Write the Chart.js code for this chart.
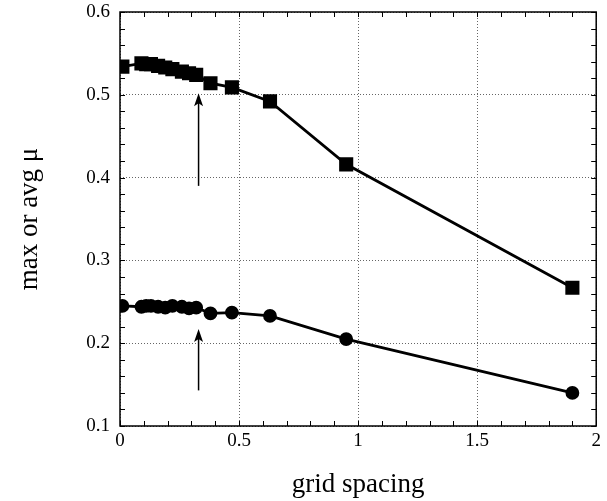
<!DOCTYPE html>
<html>
<head>
<meta charset="utf-8">
<script src="https://cdn.jsdelivr.net/npm/chart.js@4/dist/chart.umd.min.js"></script>
<style>
  html, body { margin: 0; padding: 0; background: #fff; }
  #wrap { width: 607px; height: 501px; }
</style>
</head>
<body>
<div id="wrap"><canvas id="muChart" width="607" height="501"></canvas></div>
<script>
// grid spacing values (x) shared by both curves
const spacing = [0.01, 0.09, 0.11, 0.13, 0.16, 0.19, 0.22, 0.26, 0.29, 0.32, 0.38, 0.47, 0.63, 0.95, 1.9];
// max mu (squares) and avg mu (circles)
const maxMu = [0.534, 0.538, 0.537, 0.537, 0.535, 0.533, 0.531, 0.528, 0.526, 0.524, 0.514, 0.509, 0.492, 0.416, 0.267];
const avgMu = [0.245, 0.244, 0.245, 0.245, 0.244, 0.243, 0.245, 0.244, 0.242, 0.243, 0.236, 0.237, 0.233, 0.205, 0.14];
// tick labels
const xTicks = [0, 0.5, 1, 1.5, 2];
const yTicks = [0.1, 0.2, 0.3, 0.4, 0.5, 0.6];
// arrows marking the chosen spacing: x, start (tail) and tip values
const arrowX = [0.33, 0.33];
const arrowTail = [0.39, 0.143];
const arrowTip = [0.502, 0.217];

const serif = "'Liberation Serif', 'DejaVu Serif', serif";

function toPoints(xs, ys) {
  return xs.map((x, i) => ({ x: x, y: ys[i] }));
}

// frame, inward ticks on all 4 sides, and the arrows
const framePlugin = {
  id: "frame",
  afterDatasetsDraw(chart) {
    const ctx = chart.ctx;
    const a = chart.chartArea;
    const xs = chart.scales.x;
    const ys = chart.scales.y;
    ctx.save();
    ctx.strokeStyle = "#000";
    ctx.lineWidth = 1.5;
    ctx.strokeRect(a.left, a.top, a.right - a.left, a.bottom - a.top);

    ctx.lineWidth = 1;
    ctx.beginPath();
    for (let v = 0; v <= 2.0001; v += 0.1) {
      const px = Math.round(xs.getPixelForValue(v)) + 0.5;
      ctx.moveTo(px, a.bottom); ctx.lineTo(px, a.bottom - 5);
      ctx.moveTo(px, a.top); ctx.lineTo(px, a.top + 5);
    }
    for (let v = 0.1; v <= 0.6001; v += 0.02) {
      const py = Math.round(ys.getPixelForValue(v)) + 0.5;
      ctx.moveTo(a.left, py); ctx.lineTo(a.left + 5, py);
      ctx.moveTo(a.right, py); ctx.lineTo(a.right - 5, py);
    }
    ctx.stroke();

    // arrows
    ctx.lineWidth = 1.5;
    ctx.fillStyle = "#000";
    arrowX.forEach((x, i) => {
      const px = xs.getPixelForValue(x);
      const y0 = ys.getPixelForValue(arrowTail[i]);
      const y1 = ys.getPixelForValue(arrowTip[i]);
      ctx.beginPath();
      ctx.moveTo(px, y0);
      ctx.lineTo(px, y1 + 6);
      ctx.stroke();
      ctx.beginPath();
      ctx.moveTo(px, y1);
      ctx.lineTo(px - 4.5, y1 + 13);
      ctx.lineTo(px, y1 + 10);
      ctx.lineTo(px + 4.5, y1 + 13);
      ctx.closePath();
      ctx.fill();
    });
    ctx.restore();
  }
};

new Chart(document.getElementById("muChart").getContext("2d"), {
  type: "scatter",
  data: {
    datasets: [
      {
        label: "max",
        data: toPoints(spacing, maxMu),
        showLine: true,
        borderColor: "#000",
        backgroundColor: "#000",
        borderWidth: 2.8,
        pointStyle: "rect",
        pointRadius: 8,
      },
      {
        label: "avg",
        data: toPoints(spacing, avgMu),
        showLine: true,
        borderColor: "#000",
        backgroundColor: "#000",
        borderWidth: 2.8,
        pointStyle: "circle",
        pointRadius: 5.5,
      },
    ],
  },
  options: {
    responsive: false,
    animation: false,
    layout: { padding: { top: 12, right: 6, left: 0, bottom: 0 } },
    plugins: { legend: { display: false }, tooltip: { enabled: false } },
    scales: {
      x: {
        type: "linear",
        min: 0,
        max: 2,
        afterBuildTicks: (s) => { s.ticks = xTicks.map((v) => ({ value: v })); },
        afterFit: (s) => { s.height = 75; },
        ticks: {
          color: "#000",
          font: { family: serif, size: 19 },
          padding: 4,
          maxRotation: 0,
          callback: (v) => String(v),
        },
        grid: {
          color: "#666",
          lineWidth: 1,
          drawTicks: false,
        },
        border: { display: false, dash: [1, 2] },
        title: {
          display: true,
          text: "grid spacing",
          color: "#000",
          font: { family: serif, size: 27 },
          padding: { top: 12, bottom: 0 },
        },
      },
      y: {
        type: "linear",
        min: 0.1,
        max: 0.6,
        afterBuildTicks: (s) => { s.ticks = yTicks.map((v) => ({ value: v })); },
        afterFit: (s) => { s.width = 120; s.paddingTop = 0; },
        ticks: {
          color: "#000",
          font: { family: serif, size: 19 },
          padding: 10,
          callback: (v) => v.toFixed(1),
        },
        grid: {
          color: "#666",
          lineWidth: 1,
          drawTicks: false,
        },
        border: { display: false, dash: [1, 2] },
        title: {
          display: true,
          text: "max or avg μ",
          color: "#000",
          font: { family: serif, size: 27 },
          padding: { top: 14, bottom: 0 },
        },
      },
    },
  },
  plugins: [framePlugin],
});
</script>
</body>
</html>
